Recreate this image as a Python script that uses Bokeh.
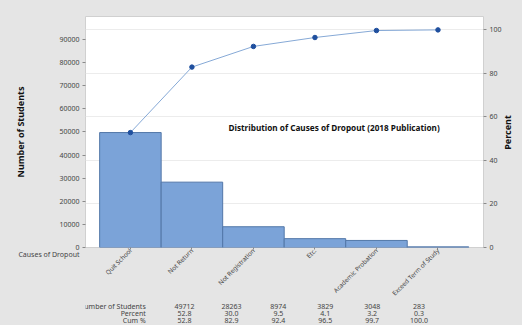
import math
from bokeh.plotting import figure
from bokeh.layouts import column
from bokeh.models import (Range1d, LinearAxis, FixedTicker, Label,
                          ColumnDataSource, Grid)
from bokeh.core.properties import value
from bokeh.embed import file_html
from bokeh.resources import INLINE

categories = ["Quit School", "Not Return", "Not Registration", "Etc.",
              "Academic Probation", "Exceed Term of Study"]
counts = [49712, 28263, 8974, 3829, 3048, 283]
percent = [52.8, 30.0, 9.5, 4.1, 3.2, 0.3]
cum_pct = [52.8, 82.9, 92.4, 96.5, 99.7, 100.0]
count_ticks = [0, 10000, 20000, 30000, 40000, 50000, 60000, 70000, 80000, 90000]
pct_ticks = [0, 20, 40, 60, 80, 100]
title_text = "Distribution of Causes of Dropout (2018 Publication)"
row_names = ["Number of Students", "Percent", "Cum %"]
x_title = "Causes of Dropout"
y_title = "Number of Students"
y2_title = "Percent"

FONT = "Noto Sans"
BG = "#e5e5e5"
TXT = "#444444"
W, H = 522, 325
L, R, T = 85, 39, 16
MAIN_H = 303
FRAME_W = W - L - R
FRAME_H = 231

total = sum(counts)
y_max = 99900
pct_max = y_max / total * 100
x0, x1 = -0.73, 5.74
upp = (x1 - x0) / FRAME_W      # x data units per pixel
vpp = y_max / FRAME_H          # y data units per pixel

p = figure(width=W, height=MAIN_H, output_backend="svg", toolbar_location=None,
           x_range=Range1d(x0, x1), y_range=Range1d(0, y_max),
           min_border_left=L, min_border_right=R, min_border_top=T,
           min_border_bottom=MAIN_H - T - FRAME_H,
           background_fill_color="white", border_fill_color=BG,
           outline_line_color="#d0d0d0")
p.title.visible = False
p.extra_y_ranges = {"pct": Range1d(0, pct_max)}
p.xgrid.visible = False
p.ygrid.visible = False
p.add_layout(Grid(dimension=1, ticker=FixedTicker(ticks=pct_ticks), y_range_name="pct",
                  grid_line_color="#ececec", grid_line_width=1))

xs = list(range(len(categories)))
src = ColumnDataSource(dict(x=xs, top=counts, cum=cum_pct))
p.vbar(x="x", top="top", width=1.0, source=src, fill_color="#7ba3d8",
       line_color="#5277a8", line_width=1)
p.line(x="x", y="cum", y_range_name="pct", source=src, line_color="#86a9d6",
       line_width=1)
p.scatter(x="x", y="cum", y_range_name="pct", source=src, size=4.5,
          fill_color="#1f4f9e", line_color="#1f4f9e")

def style_axis(ax):
    ax.major_label_text_font = FONT
    ax.major_label_text_font_size = "7px"
    ax.major_label_text_color = TXT
    ax.axis_line_color = None
    ax.major_tick_line_color = "#8a8a8a"
    ax.major_tick_out = 3
    ax.major_tick_in = 0
    ax.minor_tick_line_color = None
    ax.major_label_standoff = 3
    ax.axis_label_text_font = FONT
    ax.axis_label_text_font_style = "bold"
    ax.axis_label_text_font_size = "9px"
    ax.axis_label_text_color = "#111111"

ya = p.yaxis[0]
ya.ticker = FixedTicker(ticks=count_ticks)
style_axis(ya)
ya.axis_label = y_title
ya.axis_label_standoff = 29

ra = LinearAxis(y_range_name="pct", ticker=FixedTicker(ticks=pct_ticks))
style_axis(ra)
p.add_layout(ra, "right")

# right-hand title reading bottom-to-top, placed in the right side panel
p.add_layout(Label(x=x1 + 24 * upp, y=115 * vpp, text=y2_title, angle=math.pi / 2,
                   text_align="center", text_baseline="middle", text_font=FONT,
                   text_font_style="bold", text_font_size="9px",
                   text_color="#111111"), "right")

xa = p.xaxis[0]
xa.ticker = FixedTicker(ticks=xs)
style_axis(xa)
xa.major_label_overrides = {i: c for i, c in enumerate(categories)}
xa.major_label_orientation = math.pi / 4
xa.major_label_text_font_size = "6.3px"
xa.major_tick_out = 2
xa.major_label_standoff = 0

p.add_layout(Label(x=143, y=120, x_units="screen", y_units="screen", text=title_text,
                   text_font=FONT, text_font_style="bold", text_font_size="8.2px",
                   text_color="#111111", text_baseline="middle"))

# "Causes of Dropout" lives outside the frame: a side-panel label in data units
p.add_layout(Label(x=x0 - 6 * upp, y=-7 * vpp, text=x_title, text_align="right",
                   text_baseline="middle", text_font=FONT, text_font_size="7px",
                   text_color=TXT), "above")

# lower panel: summary table, sharing the same data x scale
BH = H - MAIN_H
bx0 = x0 - L * upp
bx1 = x1 + R * upp
b = figure(width=W, height=BH, output_backend="svg", toolbar_location=None,
           x_range=Range1d(bx0, bx1), y_range=Range1d(0, BH),
           x_axis_type=None, y_axis_type=None, min_border=0,
           min_border_left=0, min_border_right=0, min_border_top=0,
           min_border_bottom=0,
           background_fill_color=BG, border_fill_color=BG,
           outline_line_color=None)
b.title.visible = False
b.grid.visible = False

def yb(canvas_y):
    return H - canvas_y

row_y = [305.5, 312.8, 320]
row_values = [[str(c) for c in counts],
              [f"{v:.1f}" for v in percent],
              [f"{v:.1f}" for v in cum_pct]]
for name, yy, vals in zip(row_names, row_y, row_values):
    b.text(x=[x0 - 6 * upp], y=[yb(yy)], text=[name], text_align="right",
           text_baseline="middle", text_font=value(FONT), text_font_size="7px",
           text_color=TXT)
    b.text(x=xs, y=[yb(yy)] * len(xs), text=vals, text_align="center",
           text_baseline="middle", text_font=value(FONT), text_font_size="7px",
           text_color=TXT)

layout = column(p, b, spacing=0, styles={"background-color": BG})
open("out.html", "w").write(file_html(layout, INLINE))
